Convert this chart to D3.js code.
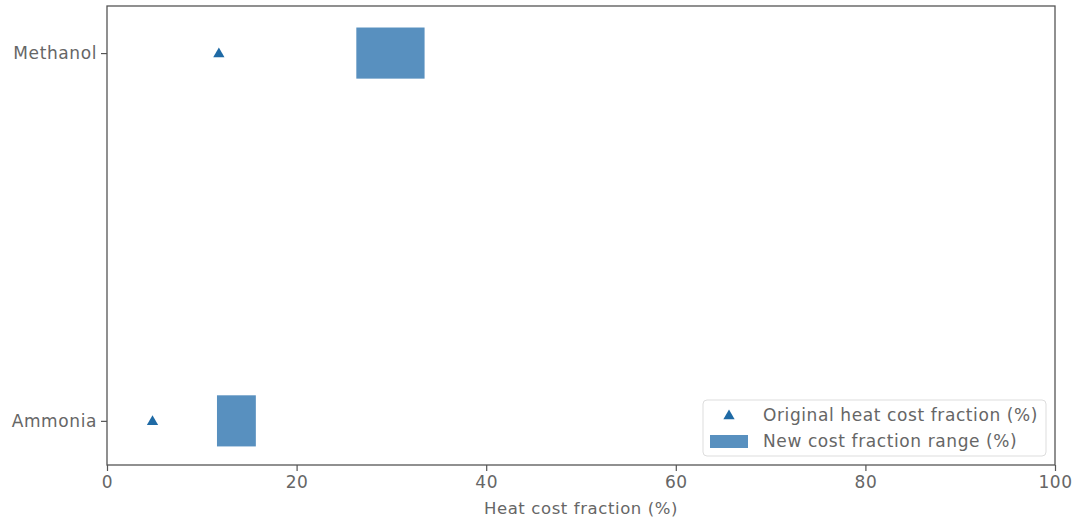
<!DOCTYPE html>
<html><head><meta charset="utf-8">
<script src="https://cdn.jsdelivr.net/npm/d3@7"></script>
<style>body{margin:0;background:#fff;} text{font-family:"DejaVu Sans",sans-serif;letter-spacing:0.6px;}</style>
</head><body><svg id="c" width="1078" height="525"></svg>
<script>
const categories = ["Ammonia", "Methanol"];
const originalFraction = [4.8, 11.8];
const rangeLow = [11.6, 26.3];
const rangeHigh = [15.7, 33.5];
const xTicks = [0, 20, 40, 60, 80, 100];
const xLabel = "Heat cost fraction (%)";
const legendLabels = ["Original heat cost fraction (%)", "New cost fraction range (%)"];

const svg = d3.select("#c");
const L = 107, R = 1055, T = 6, B = 465;
const x = d3.scaleLinear().domain([0, 100]).range([L, R]);
const y = d3.scaleLinear().domain([-0.12, 1.128]).range([B, T]);
const barH = 0.139;
const grey = "#555";
const tgrey = "#666";

svg.selectAll("rect.bar").data(categories).join("rect").attr("class","bar")
  .attr("x", (d,i)=>x(rangeLow[i])).attr("width",(d,i)=>x(rangeHigh[i])-x(rangeLow[i]))
  .attr("y",(d,i)=>y(i+barH/2)).attr("height",(d,i)=>y(i-barH/2)-y(i+barH/2))
  .attr("fill","#5890bf");

const tri = d3.symbol().type(d3.symbolTriangle).size(55);
svg.selectAll("path.pt").data(categories).join("path").attr("class","pt")
  .attr("d", tri).attr("transform",(d,i)=>`translate(${x(originalFraction[i])},${y(i)+1})`)
  .attr("fill","#1f6aa5");

svg.append("rect").attr("x",L).attr("y",T).attr("width",R-L).attr("height",B-T)
  .attr("fill","none").attr("stroke",grey).attr("stroke-width",1.3);

const xa = svg.append("g").attr("transform",`translate(0,${B})`)
  .call(d3.axisBottom(x).tickValues(xTicks).tickSize(6).tickPadding(5).tickFormat(d3.format("d")));
xa.select(".domain").remove();
xa.selectAll("line").attr("stroke",grey).attr("stroke-width",1.2);
xa.selectAll("text").attr("fill",tgrey).style("font-size","17px");

const ya = svg.append("g").attr("transform",`translate(${L},0)`)
  .call(d3.axisLeft(d3.scalePoint().domain(categories).range([y(0), y(1)])).tickSize(6).tickPadding(4));
ya.select(".domain").remove();
ya.selectAll("line").attr("stroke",grey).attr("stroke-width",1.2);
ya.selectAll("text").attr("fill",tgrey).style("font-size","17px");

svg.append("text").attr("x",(L+R)/2).attr("y",514).attr("text-anchor","middle")
  .attr("fill",tgrey).style("font-size","16.5px").text(xLabel);

const lg = svg.append("g");
lg.append("rect").attr("x",703).attr("y",400).attr("width",343).attr("height",56).attr("rx",4)
  .attr("fill","#fff").attr("stroke","#ddd").attr("stroke-width",1);
lg.append("path").attr("d",tri).attr("transform","translate(729,416)").attr("fill","#1f6aa5");
lg.append("rect").attr("x",710).attr("y",435).attr("width",38).attr("height",13).attr("fill","#5890bf");
lg.selectAll("text").data(legendLabels).join("text").attr("x",763).attr("y",(d,i)=>415+i*26)
  .attr("dy","0.35em").attr("fill",tgrey).style("font-size","17px").text(d=>d);
</script></body></html>
